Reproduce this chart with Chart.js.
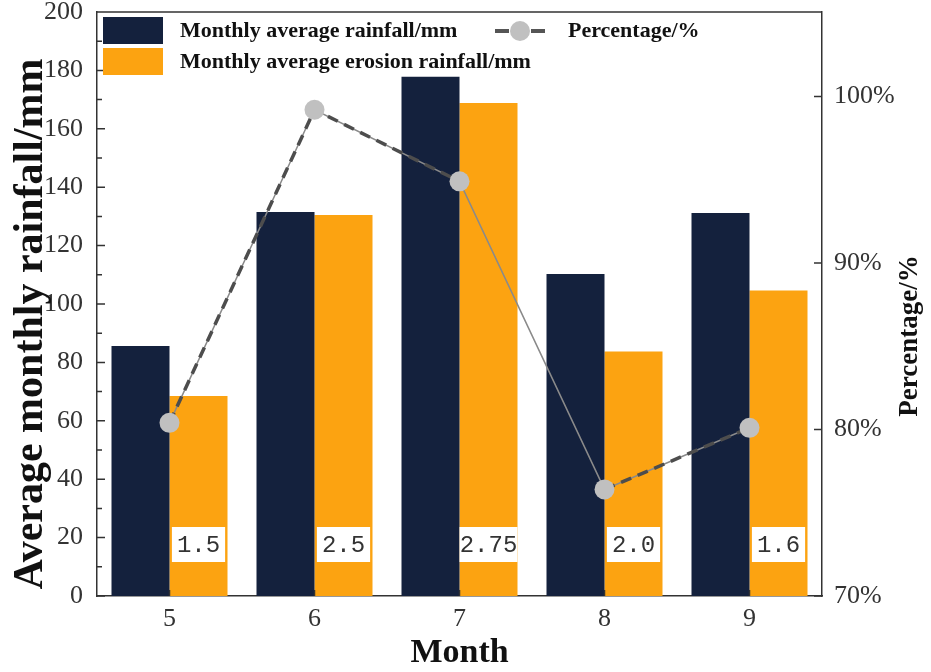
<!DOCTYPE html>
<html>
<head>
<meta charset="utf-8">
<script src="https://cdn.jsdelivr.net/npm/chart.js@4.4.1/dist/chart.umd.min.js"></script>
<style>
  body { margin: 0; background: #fff; }
  #wrap { width: 931px; height: 672px; }
</style>
</head>
<body>
<div id="wrap"><canvas id="chart_content" width="931" height="672"></canvas></div>
<script>
var canvasElement = document.getElementById("chart_content");

// values
const months = ["5", "6", "7", "8", "9"];
const rainfall = [85.6, 131.5, 177.8, 110.3, 131.2];
const erosionRainfall = [68.5, 130.5, 168.8, 83.7, 104.6];
const percentage = [80.4, 99.2, 94.9, 76.4, 80.1];
const boxLabels = ["1.5", "2.5", "2.75", "2.0", "1.6"];
const leftTicks = [0, 20, 40, 60, 80, 100, 120, 140, 160, 180, 200];
const rightTicks = [70, 80, 90, 100];

const NAVY = "#14213D";
const ORANGE = "#FCA311";
const SERIF = '"Liberation Serif", "DejaVu Serif", serif';

// inner ticks, frame, value boxes, legend and axis titles
const extras = {
	id: "extras",
	afterDatasetsDraw(chart) {
		const ctx = chart.ctx;
		const area = chart.chartArea;
		ctx.save();
		// boxes on the orange bars
		const meta = chart.getDatasetMeta(3);
		ctx.font = '24px "Liberation Mono", monospace';
		ctx.textAlign = "center";
		ctx.textBaseline = "middle";
		meta.data.forEach(function(bar, i) {
			const w = Math.min(ctx.measureText(boxLabels[i]).width + 10, bar.width);
			ctx.fillStyle = "#fff";
			ctx.fillRect(bar.x - w / 2, area.bottom - 69, w, 35);
			ctx.fillStyle = "#333";
			ctx.fillText(boxLabels[i], bar.x, area.bottom - 50);
		});
		ctx.restore();
	},
	afterDraw(chart) {
		const ctx = chart.ctx;
		const area = chart.chartArea;
		const y = chart.scales.y;
		const y1 = chart.scales.y1;
		const x = chart.scales.x;

		ctx.save();
		ctx.strokeStyle = "#333";
		ctx.lineWidth = 1.5;
		ctx.beginPath();
		ctx.moveTo(area.left, area.top);
		ctx.lineTo(area.right, area.top);
		for (let v = 0; v <= 200; v += 10) {
			const py = y.getPixelForValue(v);
			ctx.moveTo(area.left, py);
			ctx.lineTo(area.left + (v % 20 === 0 ? 8 : 5), py);
		}
		rightTicks.forEach(function(v) {
			const py = y1.getPixelForValue(v);
			ctx.moveTo(area.right, py);
			ctx.lineTo(area.right - 8, py);
		});
		months.forEach(function(m, i) {
			const px = x.getPixelForValue(i);
			ctx.moveTo(px, area.bottom);
			ctx.lineTo(px, area.bottom - 6);
		});
		ctx.stroke();

		// legend
		const ds = chart.data.datasets;
		ctx.font = "bold 22px " + SERIF;
		ctx.textAlign = "left";
		ctx.textBaseline = "middle";
		ctx.fillStyle = NAVY;
		ctx.fillRect(area.left + 6, 17, 60, 27);
		ctx.fillStyle = ORANGE;
		ctx.fillRect(area.left + 6, 48, 60, 27);
		ctx.fillStyle = "#111";
		ctx.fillText(ds[2].label, area.left + 83, 31);
		ctx.fillText(ds[3].label, area.left + 83, 62);
		ctx.fillText(ds[1].label, area.left + 471, 31);

		ctx.strokeStyle = "#555";
		ctx.lineWidth = 4;
		ctx.beginPath();
		ctx.moveTo(area.left + 398, 31);
		ctx.lineTo(area.left + 412, 31);
		ctx.moveTo(area.left + 434, 31);
		ctx.lineTo(area.left + 448, 31);
		ctx.stroke();
		ctx.fillStyle = "#c0c0c0";
		ctx.beginPath();
		ctx.arc(area.left + 423, 31, 10, 0, Math.PI * 2);
		ctx.fill();

		// axis titles, both reading bottom to top
		ctx.textAlign = "center";
		ctx.fillStyle = "#111";
		ctx.save();
		ctx.translate(31, 324);
		ctx.rotate(-Math.PI / 2);
		ctx.font = "bold 42px " + SERIF;
		ctx.fillText("Average monthly rainfall/mm", 0, 0);
		ctx.restore();

		ctx.translate(910, 336);
		ctx.rotate(-Math.PI / 2);
		ctx.font = "bold 27px " + SERIF;
		ctx.fillText("Percentage/%", 0, 0);
		ctx.restore();
	}
};

function drawChart() {
	var config = {
		type: "bar",
		data: {
			labels: months,
			datasets: [{
				type: "line",
				label: "Percentage/%",
				data: percentage,
				yAxisID: "y1",
				borderColor: "#8a8a8a",
				borderWidth: 1.5,
				pointRadius: 0,
				order: 1
			}, {
				type: "line",
				label: "Percentage/%",
				data: percentage,
				yAxisID: "y1",
				borderWidth: 3.5,
				borderDash: [11, 7],
				segment: {
					borderColor: function(c) { return c.p0DataIndex === 2 ? "rgba(0,0,0,0)" : "#4d4d4d"; }
				},
				pointRadius: 10,
				pointHoverRadius: 10,
				pointBackgroundColor: "#c0c0c0",
				pointBorderWidth: 0,
				order: 0
			}, {
				label: "Monthly average rainfall/mm",
				data: rainfall,
				backgroundColor: NAVY,
				categoryPercentage: 0.8,
				barPercentage: 1.0,
				order: 2
			}, {
				label: "Monthly average erosion rainfall/mm",
				data: erosionRainfall,
				backgroundColor: ORANGE,
				categoryPercentage: 0.8,
				barPercentage: 1.0,
				order: 2
			}]
		},
		options: {
			responsive: false,
			animation: false,
			layout: { padding: { top: 12, left: 0, right: 0, bottom: 0 } },
			plugins: {
				legend: { display: false },
				tooltip: { enabled: false }
			},
			scales: {
				x: {
					grid: { display: false, drawTicks: false },
					border: { display: true, color: "#333", width: 1.5 },
					ticks: { color: "#333", padding: 8, font: { family: SERIF, size: 26 } },
					title: {
						display: true, text: "Month", color: "#111", padding: { top: 0, bottom: 2 },
						font: { family: SERIF, size: 34, weight: "bold", lineHeight: 1 }
					},
					afterFit: function(s) { s.height = 76; s.paddingLeft = 0; s.paddingRight = 0; }
				},
				y: {
					position: "left",
					min: 0, max: 200,
					afterBuildTicks: function(s) { s.ticks = leftTicks.map(function(v) { return { value: v }; }); },
					grid: { display: false, drawTicks: false },
					border: { display: true, color: "#333", width: 1.5 },
					ticks: { color: "#333", padding: 14, font: { family: SERIF, size: 26 } },
					afterFit: function(s) { s.width = 97; s.paddingTop = 0; s.paddingBottom = 0; }
				},
				y1: {
					position: "right",
					min: 70, max: 105.07,
					afterBuildTicks: function(s) { s.ticks = rightTicks.map(function(v) { return { value: v }; }); },
					grid: { display: false, drawTicks: false },
					border: { display: true, color: "#333", width: 1.5 },
					ticks: {
						color: "#333", padding: 12, font: { family: SERIF, size: 26 },
						callback: function(v) { return v + "%"; }
					},
					afterFit: function(s) { s.width = 109; s.paddingTop = 0; s.paddingBottom = 0; }
				}
			}
		},
		plugins: [extras]
	};

	var content_chart = new Chart(canvasElement, config);
}

window.onload = function() {
	drawChart();
};
</script>
</body>
</html>
